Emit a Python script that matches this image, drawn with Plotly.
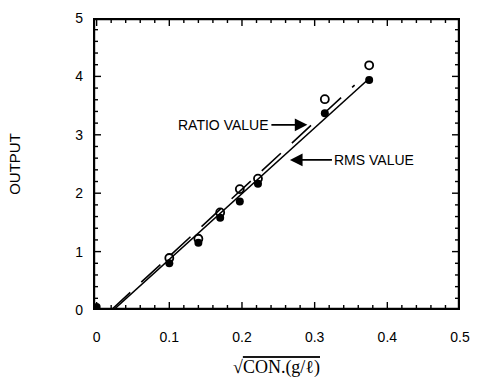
import plotly.graph_objects as go

# Measured output against square-root concentration
conc_rms = [0.0, 0.10, 0.14, 0.17, 0.197, 0.222, 0.314, 0.375]
rms_vals = [0.05, 0.80, 1.15, 1.58, 1.86, 2.16, 3.37, 3.94]

conc_ratio = [0.10, 0.14, 0.17, 0.197, 0.222, 0.314, 0.375]
ratio_vals = [0.89, 1.22, 1.67, 2.07, 2.25, 3.61, 4.19]

# Fitted lines (end points)
rms_fit_x = [0.023, 0.372]
rms_fit_y = [0.0, 3.93]
ratio_fit_x = [0.02, 0.355]
ratio_fit_y = [0.0, 3.85]

# Axis settings
x_range = [-0.005, 0.5]
y_range = [0.0, 5.0]
x_major, x_minor = 0.1, 0.02
y_major, y_minor = 1.0, 0.2

W, H = 479, 380
M = dict(l=93, r=19, t=18, b=70)
px_x = (x_range[1] - x_range[0]) / (W - M["l"] - M["r"])
px_y = (y_range[1] - y_range[0]) / (H - M["t"] - M["b"])

fig = go.Figure()


def bar_rect(xa, xb, ya, yb):
    """Solid black rectangle in data units (used for the frame and ticks)."""
    fig.add_trace(go.Scatter(
        x=[xa, xb, xb, xa, xa], y=[ya, ya, yb, yb, ya],
        mode="lines", fill="toself", fillcolor="black",
        line=dict(color="black", width=0),
        hoverinfo="skip", showlegend=False))


x0, x1 = x_range
y0, y1 = y_range
t_x, t_y = 2.2 * px_x, 2.2 * px_y

# Boxed frame
bar_rect(x0, x1, y0, y0 + t_y)
bar_rect(x0, x1, y1 - t_y, y1)
bar_rect(x0, x0 + t_x, y0, y1)
bar_rect(x1 - t_x, x1, y0, y1)

# Inward ticks on all four sides
hw_x, hw_y = 0.7 * px_x, 0.7 * px_y
step_x = round(x_major / x_minor)
for i in range(int(round(x1 / x_minor)) + 1):
    v = round(i * x_minor, 6)
    L = (8 if i % step_x == 0 else 5) * px_y
    bar_rect(v - hw_x, v + hw_x, y0, y0 + L)
    bar_rect(v - hw_x, v + hw_x, y1 - L, y1)
step_y = round(y_major / y_minor)
for i in range(int(round(y1 / y_minor)) + 1):
    v = round(i * y_minor, 6)
    L = (8 if i % step_y == 0 else 5) * px_x
    bar_rect(x0, x0 + L, v - hw_y, v + hw_y)
    bar_rect(x1 - L, x1, v - hw_y, v + hw_y)

fig.add_trace(go.Scatter(
    x=rms_fit_x, y=rms_fit_y, mode="lines",
    line=dict(color="black", width=1.6), showlegend=False))
fig.add_trace(go.Scatter(
    x=ratio_fit_x, y=ratio_fit_y, mode="lines",
    line=dict(color="black", width=1.6, dash="26px,15px"), showlegend=False))
fig.add_trace(go.Scatter(
    x=conc_rms, y=rms_vals, mode="markers",
    marker=dict(symbol="circle", size=8, color="black"), showlegend=False))
fig.add_trace(go.Scatter(
    x=conc_ratio, y=ratio_vals, mode="markers",
    marker=dict(symbol="circle-open", size=8, color="black",
                line=dict(width=1.8)), showlegend=False))

label_font = dict(family="Liberation Sans, Arial, sans-serif", size=14, color="black")
fig.add_annotation(x=0.290, y=3.17, ax=-36, ay=0, text="RATIO VALUE",
                   showarrow=True, arrowhead=2, arrowsize=1.4, arrowwidth=1.8,
                   arrowcolor="black", xanchor="right", font=label_font,
                   axref="pixel", ayref="pixel", standoff=0)
fig.add_annotation(x=0.266, y=2.57, ax=42, ay=0, text="RMS VALUE",
                   showarrow=True, arrowhead=2, arrowsize=1.4, arrowwidth=1.8,
                   arrowcolor="black", xanchor="left", font=label_font,
                   axref="pixel", ayref="pixel", standoff=0)

tick_font = dict(family="Liberation Sans, Arial, sans-serif", size=14, color="black")

fig.update_xaxes(
    range=x_range, tickmode="linear", tick0=0, dtick=x_major,
    showgrid=False, zeroline=False, showline=False, ticks="", automargin=False,
    tickfont=tick_font, ticklabelstandoff=17,
    title=dict(text="√<span style='text-decoration:overline'>CON.(g/ℓ)</span>",
               font=dict(family="Liberation Serif, Times New Roman, serif", size=18, color="black"),
               standoff=16))
fig.update_yaxes(
    range=y_range, tickmode="linear", tick0=0, dtick=y_major,
    showgrid=False, zeroline=False, showline=False, ticks="", automargin=False,
    tickfont=tick_font, ticklabelstandoff=9,
    title=dict(text="OUTPUT",
               font=dict(family="Liberation Sans, Arial, sans-serif", size=15, color="black"),
               standoff=50))

fig.update_layout(
    template="none",
    width=W, height=H, margin=M,
    paper_bgcolor="white", plot_bgcolor="white",
    font=dict(color="black"),
)

fig.write_html("out.html")
